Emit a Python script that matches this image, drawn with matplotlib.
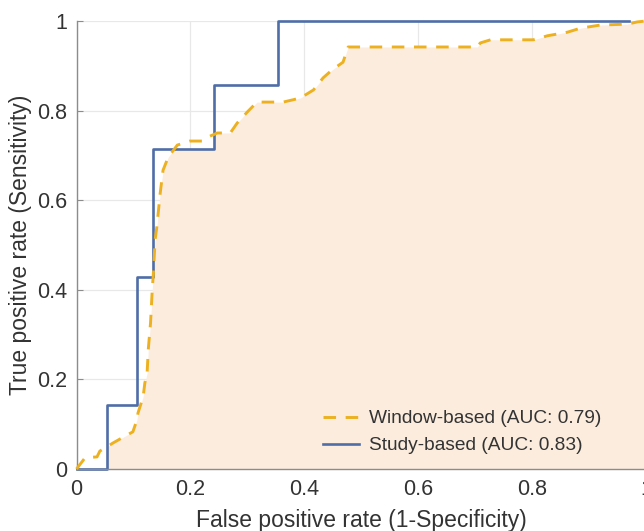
import matplotlib.pyplot as plt
import numpy as np

plt.rcParams['font.family'] = ['Liberation Sans', 'DejaVu Sans']

# Study-based ROC (step curve, where='post')
study_fpr = [0.0, 0.053, 0.107, 0.134, 0.241, 0.353, 0.97]
study_tpr = [0.0, 0.143, 0.429, 0.714, 0.857, 1.0, 1.0]

# Window-based ROC
window_fpr = [0.0, 0.015, 0.036, 0.041, 0.064, 0.089, 0.099, 0.106, 0.108, 0.117,
              0.120, 0.124, 0.126, 0.130, 0.133, 0.135, 0.138, 0.141, 0.147, 0.152,
              0.161, 0.177, 0.199, 0.221, 0.231, 0.247, 0.270, 0.282, 0.300, 0.317,
              0.363, 0.393, 0.416, 0.433, 0.449, 0.468, 0.477, 0.704, 0.709, 0.727,
              0.802, 0.827, 0.862, 0.885, 0.920, 0.967, 0.985, 1.0]
window_tpr = [0.0, 0.025, 0.027, 0.040, 0.058, 0.076, 0.083, 0.109, 0.125, 0.161,
              0.192, 0.214, 0.266, 0.326, 0.400, 0.437, 0.511, 0.540, 0.616, 0.667,
              0.696, 0.723, 0.732, 0.732, 0.741, 0.750, 0.750, 0.772, 0.797, 0.819,
              0.819, 0.828, 0.846, 0.873, 0.891, 0.908, 0.942, 0.942, 0.951, 0.958,
              0.958, 0.967, 0.975, 0.984, 0.991, 0.993, 0.998, 1.0]

labels = ['Window-based (AUC: 0.79)', 'Study-based (AUC: 0.83)']
ticks = [0, 0.2, 0.4, 0.6, 0.8, 1]

fig = plt.figure(figsize=(6.44, 5.31), dpi=100)
ax = fig.add_axes([76.5 / 644, 62 / 531, 569.5 / 644, 448 / 531])

# shaded area: region under both curves
xs = np.linspace(0, 1, 2001)
idx = np.searchsorted(study_fpr, xs, side='right') - 1
study_on_grid = np.array(study_tpr)[idx]
window_on_grid = np.interp(xs, window_fpr, window_tpr)
ax.fill_between(xs, 0, np.minimum(study_on_grid, window_on_grid),
                color='#FBECDD', lw=0, zorder=1)

ax.plot(window_fpr, window_tpr, color='#EDB120', lw=2.1, dashes=(4.3, 3.3),
        label=labels[0], zorder=3, clip_on=False)
ax.step(study_fpr, study_tpr, where='post', color='#4F6EA8', lw=1.9,
        label=labels[1], zorder=2, clip_on=False)

ax.set_xlim(0, 1)
ax.set_ylim(0, 1)
ax.set_xticks(ticks)
ax.set_yticks(ticks)
ax.set_xticklabels(['%g' % t for t in ticks])
ax.set_yticklabels(['%g' % t for t in ticks])
ax.set_axisbelow(True)
ax.grid(True, color='#E8E8E8', lw=0.9)
for s in ['top', 'right']:
    ax.spines[s].set_visible(False)
for s in ['left', 'bottom']:
    ax.spines[s].set_color('#8C8C8C')
    ax.spines[s].set_linewidth(1.0)
ax.tick_params(direction='in', length=4, color='#8C8C8C', labelsize=15.5,
               labelcolor='#333333', pad=7)

ax.set_xlabel('False positive rate (1-Specificity)', fontsize=16.5, color='#333333', labelpad=7)
ax.set_ylabel('True positive rate (Sensitivity)', fontsize=16.5, color='#333333', labelpad=3)

leg = ax.legend(loc='lower right', bbox_to_anchor=(0.952, -0.006), frameon=False,
                fontsize=13.8, handlelength=1.9, handletextpad=0.5, labelspacing=0.5)
for t in leg.get_texts():
    t.set_color('#333333')

fig.savefig('out.png', dpi=100)
